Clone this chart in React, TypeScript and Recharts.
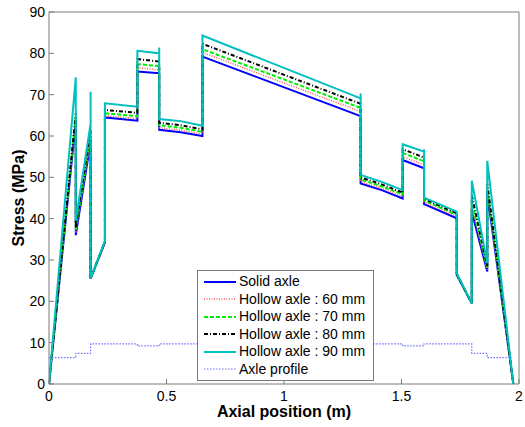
import React from 'react';
import { LineChart, Line, XAxis, YAxis, Legend } from 'recharts';

// Axial positions (m) shared by the stress curves (repeated values = vertical jumps)
const POSITIONS = [0, 0.114, 0.114, 0.177, 0.177, 0.177, 0.238, 0.238, 0.376, 0.376, 0.469, 0.469, 0.469, 0.56, 0.653, 0.653, 1.326, 1.326, 1.326, 1.416, 1.505, 1.505, 1.596, 1.596, 1.596, 1.735, 1.735, 1.799, 1.799, 1.865, 1.865, 1.976];

const SOLID = [0, 63.5, 36.0, 58.5, 58.5, 25.5, 34.2, 64.5, 63.7, 75.6, 75.2, 75.2, 61.5, 60.9, 60.0, 79.2, 64.8, 64.8, 48.5, 46.9, 44.9, 54.2, 52.2, 52.2, 43.5, 40.1, 26.4, 19.5, 41.7, 27.2, 46.1, 0];
const HOLLOW_60 = [0, 64.0, 36.5, 59.2, 59.2, 25.5, 34.3, 64.9, 64.2, 76.5, 76.0, 76.0, 62.0, 61.4, 60.5, 80.2, 65.9, 65.9, 49.0, 47.3, 45.4, 55.0, 53.0, 53.0, 44.0, 40.5, 26.5, 19.5, 42.8, 27.6, 46.8, 0];
const HOLLOW_70 = [0, 64.8, 37.2, 60.3, 60.3, 25.5, 34.4, 65.5, 64.8, 77.4, 76.9, 76.9, 62.6, 62.0, 61.0, 81.0, 66.8, 66.8, 49.5, 47.8, 45.9, 55.9, 53.9, 53.9, 44.4, 40.9, 26.6, 19.5, 44.0, 28.0, 47.6, 0];
const HOLLOW_80 = [0, 65.5, 37.8, 61.5, 61.5, 25.6, 34.5, 66.3, 65.6, 78.6, 78.0, 78.0, 63.2, 62.6, 61.6, 82.3, 67.8, 67.8, 50.0, 48.3, 46.3, 56.8, 54.8, 54.8, 44.8, 41.3, 26.7, 19.5, 45.7, 28.5, 48.5, 0];
const HOLLOW_90 = [0, 74.2, 39.5, 63.0, 70.7, 25.6, 34.6, 67.9, 67.1, 80.6, 80.0, 81.4, 64.1, 63.6, 62.5, 84.3, 69.1, 70.3, 50.6, 48.9, 46.9, 58.0, 56.2, 56.8, 45.1, 41.7, 26.8, 19.5, 49.2, 29.2, 54.0, 0];

// Axle profile (stairs)
const PROFILE_X = [0, 0.114, 0.177, 0.376, 0.469, 1.505, 1.596, 1.799, 1.865, 1.97];
const PROFILE_Y = [6.4, 7.4, 9.7, 9.2, 9.7, 9.2, 9.7, 7.4, 6.4, 6.4];

const X_TICKS = [0, 0.5, 1, 1.5, 2];
const Y_TICKS = [0, 10, 20, 30, 40, 50, 60, 70, 80, 90];

const SERIES = [
  { name: 'Solid axle', values: SOLID, color: '#0000ff', width: 2, dash: undefined as string | undefined },
  { name: 'Hollow axle : 60 mm', values: HOLLOW_60, color: '#ff5a5a', width: 1.5, dash: '1 1.5' },
  { name: 'Hollow axle : 70 mm', values: HOLLOW_70, color: '#00ee00', width: 2, dash: '4 2' },
  { name: 'Hollow axle : 80 mm', values: HOLLOW_80, color: '#000000', width: 2, dash: '4 2 1 2' },
  { name: 'Hollow axle : 90 mm', values: HOLLOW_90, color: '#00bfbf', width: 2, dash: undefined as string | undefined },
];
const PROFILE_STYLE = { name: 'Axle profile', color: '#6f6fff', width: 1.2, dash: '1.5 1.5' };

const FONT = '"Liberation Sans", Arial, Helvetica, sans-serif';
const AXIS_COLOR = '#7a7a7a';

const build = (xs: number[], ys: number[]) => xs.map((x, i) => ({ x, y: ys[i] }));

const LegendBox = () => {
  const items = [...SERIES, PROFILE_STYLE];
  return (
    <div
      style={{
        border: `1px solid ${AXIS_COLOR}`,
        background: '#fff',
        width: 175,
        height: 107,
        paddingTop: 2,
        boxSizing: 'content-box',
        fontFamily: FONT,
        fontSize: 14,
        color: '#000',
      }}
    >
      {items.map((it) => (
        <div key={it.name} style={{ height: 17.5, display: 'flex', alignItems: 'center', whiteSpace: 'nowrap' }}>
          <svg width={40} height={10} style={{ marginLeft: 4, flex: 'none' }}>
            <line x1={2} y1={5} x2={34} y2={5} stroke={it.color} strokeWidth={it.width} strokeDasharray={it.dash} />
          </svg>
          <span style={{ marginLeft: -3, lineHeight: '17.5px' }}>{it.name}</span>
        </div>
      ))}
    </div>
  );
};

export default function App() {
  return (
    <div style={{ position: 'absolute', left: 0, top: 0, width: 525, height: 427, background: '#fff' }}>
      <LineChart width={525} height={427} margin={{ top: 11, right: 5, bottom: 11, left: 9 }}>
        <XAxis
          xAxisId="b"
          type="number"
          dataKey="x"
          domain={[0, 2]}
          ticks={X_TICKS}
          allowDataOverflow
          height={32}
          stroke={AXIS_COLOR}
          tickSize={-5}
          tickMargin={12}
          tick={{ fill: '#000', fontSize: 14, fontFamily: FONT }}
          label={{
            content: (p: any) => {
              const vb = p.viewBox;
              return (
                <text x={vb.x + vb.width / 2} y={vb.y + 33} textAnchor="middle" fontFamily={FONT} fontWeight="bold" fontSize={16} fill="#000">
                  Axial position (m)
                </text>
              );
            },
          }}
        />
        <XAxis
          xAxisId="t"
          orientation="top"
          type="number"
          dataKey="x"
          domain={[0, 2]}
          ticks={X_TICKS}
          allowDataOverflow
          height={1}
          stroke={AXIS_COLOR}
          tickSize={-5}
          tick={false}
        />
        <YAxis
          yAxisId="l"
          type="number"
          domain={[0, 90]}
          ticks={Y_TICKS}
          allowDataOverflow
          width={40}
          stroke={AXIS_COLOR}
          tickSize={-5}
          tickMargin={9}
          tick={{ fill: '#000', fontSize: 14, fontFamily: FONT }}
          label={{
            content: (p: any) => {
              const vb = p.viewBox;
              const cx = vb.x + 15;
              const cy = vb.y + vb.height / 2;
              return (
                <text x={cx} y={cy} transform={`rotate(-90 ${cx} ${cy})`} textAnchor="middle" fontFamily={FONT} fontWeight="bold" fontSize={16} fill="#000">
                  Stress (MPa)
                </text>
              );
            },
          }}
        />
        <YAxis
          yAxisId="r"
          orientation="right"
          type="number"
          domain={[0, 90]}
          ticks={Y_TICKS}
          allowDataOverflow
          width={1}
          stroke={AXIS_COLOR}
          tickSize={-5}
          tick={false}
        />
        {SERIES.map((s) => (
          <Line
            key={s.name}
            xAxisId="b"
            yAxisId="l"
            data={build(POSITIONS, s.values)}
            dataKey="y"
            name={s.name}
            type="linear"
            stroke={s.color}
            strokeWidth={s.width}
            strokeDasharray={s.dash}
            dot={false}
            activeDot={false}
            isAnimationActive={false}
          />
        ))}
        <Line
          xAxisId="b"
          yAxisId="l"
          data={build(PROFILE_X, PROFILE_Y)}
          dataKey="y"
          name={PROFILE_STYLE.name}
          type="stepAfter"
          stroke={PROFILE_STYLE.color}
          strokeWidth={PROFILE_STYLE.width}
          strokeDasharray={PROFILE_STYLE.dash}
          dot={false}
          activeDot={false}
          isAnimationActive={false}
        />
        <Legend
          layout="vertical"
          align="center"
          verticalAlign="middle"
          content={() => <LegendBox />}
          wrapperStyle={{ position: 'absolute', left: 197, top: 270, width: 177, height: 110, margin: 0, padding: 0 }}
        />
      </LineChart>
    </div>
  );
}
